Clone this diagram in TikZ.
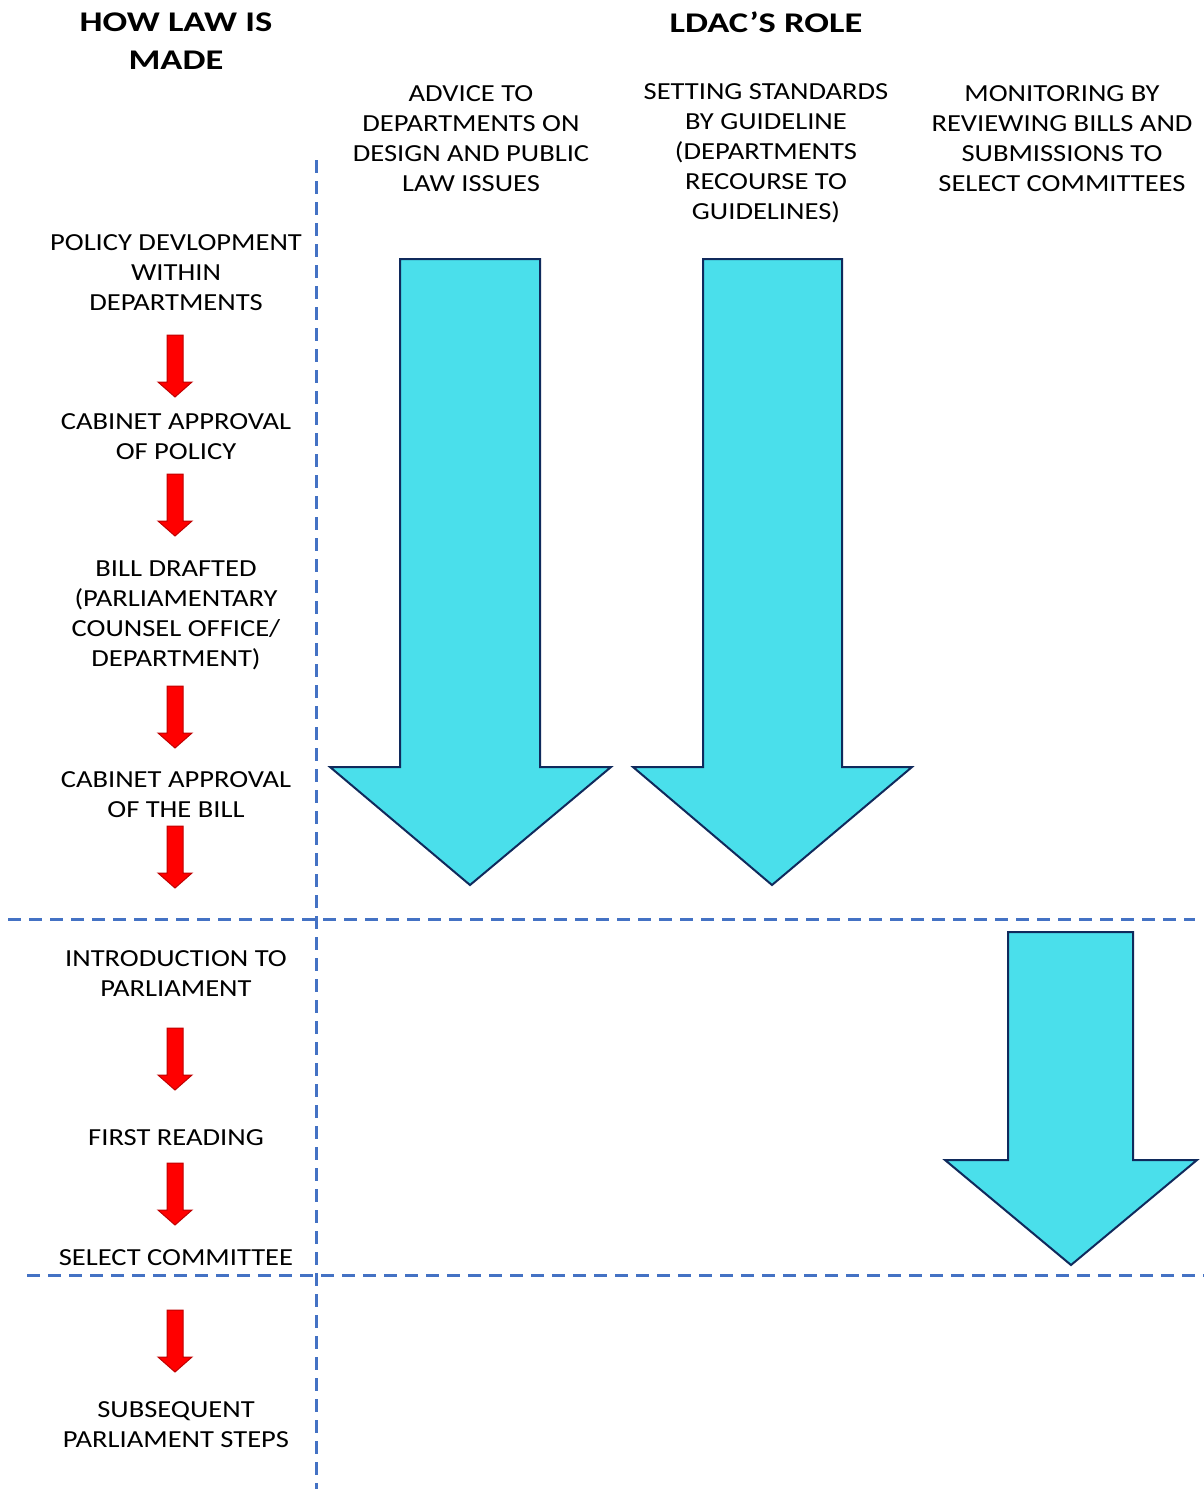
\documentclass[tikz,border=0pt]{standalone}
\usepackage{fontspec}
\setmainfont{Carlito}[FakeStretch=1.165]
\newfontfamily\ttlfont{Carlito}[FakeStretch=1.28]
\definecolor{divblue}{HTML}{4472C4}
\definecolor{arrred}{HTML}{FF0000}
\definecolor{arrdark}{HTML}{C00000}
\definecolor{arrcyan}{HTML}{4ADFEB}
\definecolor{arrnavy}{HTML}{102A5C}
\tikzset{
  lbl/.style={inner sep=0pt, align=center, font=\fontsize{24.5}{30}\selectfont},
  ttl/.style={inner sep=0pt, align=center, font=\ttlfont\bfseries\fontsize{28.5}{38}\selectfont},
  divider/.style={draw=divblue, line width=3pt, dash pattern=on 13pt off 8pt},
  redblk/.style={fill=arrred, draw=arrdark, line width=1pt, line join=miter},
  cyanblk/.style={fill=arrcyan, draw=arrnavy, line width=2pt, line join=miter}
}
\begin{document}
\begin{tikzpicture}[x=1pt,y=-1pt]
\useasboundingbox (0,0) rectangle (1204,1489);
\fill[white] (0,0) rectangle (1204,1489);

% dividers
\draw[divider] (316,160) -- (316,1489);
\draw[divider] (8,919) -- (1195,919);
\draw[divider] (27,1275) -- (1204,1275);

% titles
\node[ttl] (tlaw) at (176,41.5) {HOW LAW IS\\MADE};
\node[ttl] (trole) at (766,22.5) {LDAC’S ROLE};

% column headers
\node[lbl] (h1) at (471,138.5) {ADVICE TO\\DEPARTMENTS ON\\DESIGN AND PUBLIC\\LAW ISSUES};
\node[lbl] (h2) at (766,153.5) {SETTING STANDARDS\\BY GUIDELINE\\(DEPARTMENTS\\RECOURSE TO\\GUIDELINES)};
\node[lbl] (h3) at (1062,138.5) {MONITORING BY\\REVIEWING BILLS AND\\SUBMISSIONS TO\\SELECT COMMITTEES};

% law-making steps
\node[lbl] (s1) at (176,272.5) {POLICY DEVLOPMENT\\WITHIN\\DEPARTMENTS};
\node[lbl] (s2) at (176,436.5) {CABINET APPROVAL\\OF POLICY};
\node[lbl] (s3) at (176,615.5) {BILL DRAFTED\\(PARLIAMENTARY\\COUNSEL OFFICE/\\DEPARTMENT)};
\node[lbl] (s4) at (176,794.5) {CABINET APPROVAL\\OF THE BILL};
\node[lbl] (s5) at (176,973.5) {INTRODUCTION TO\\PARLIAMENT};
\node[lbl] (s6) at (176,1137.5) {FIRST READING};
\node[lbl] (s7) at (176,1257.5) {SELECT COMMITTEE};
\node[lbl] (s8) at (176,1424.5) {SUBSEQUENT\\PARLIAMENT STEPS};

% red block arrows
\foreach \t in {335,474,686,826,1028,1163,1310} {
  \draw[redblk] (167,\t) -- (183,\t) -- (183,\t+47) -- (192,\t+47) -- (175,\t+62)
    -- (158,\t+47) -- (167,\t+47) -- cycle;
}

% cyan block arrows
\draw[cyanblk] (400,259) -- (540,259) -- (540,767) -- (611,767) -- (470,885)
  -- (330,767) -- (400,767) -- cycle;
\draw[cyanblk] (703,259) -- (842,259) -- (842,767) -- (912,767) -- (772,885)
  -- (633,767) -- (703,767) -- cycle;
\draw[cyanblk] (1008,932) -- (1133,932) -- (1133,1160) -- (1197,1160) -- (1071,1265)
  -- (945,1160) -- (1008,1160) -- cycle;
\end{tikzpicture}
\end{document}
